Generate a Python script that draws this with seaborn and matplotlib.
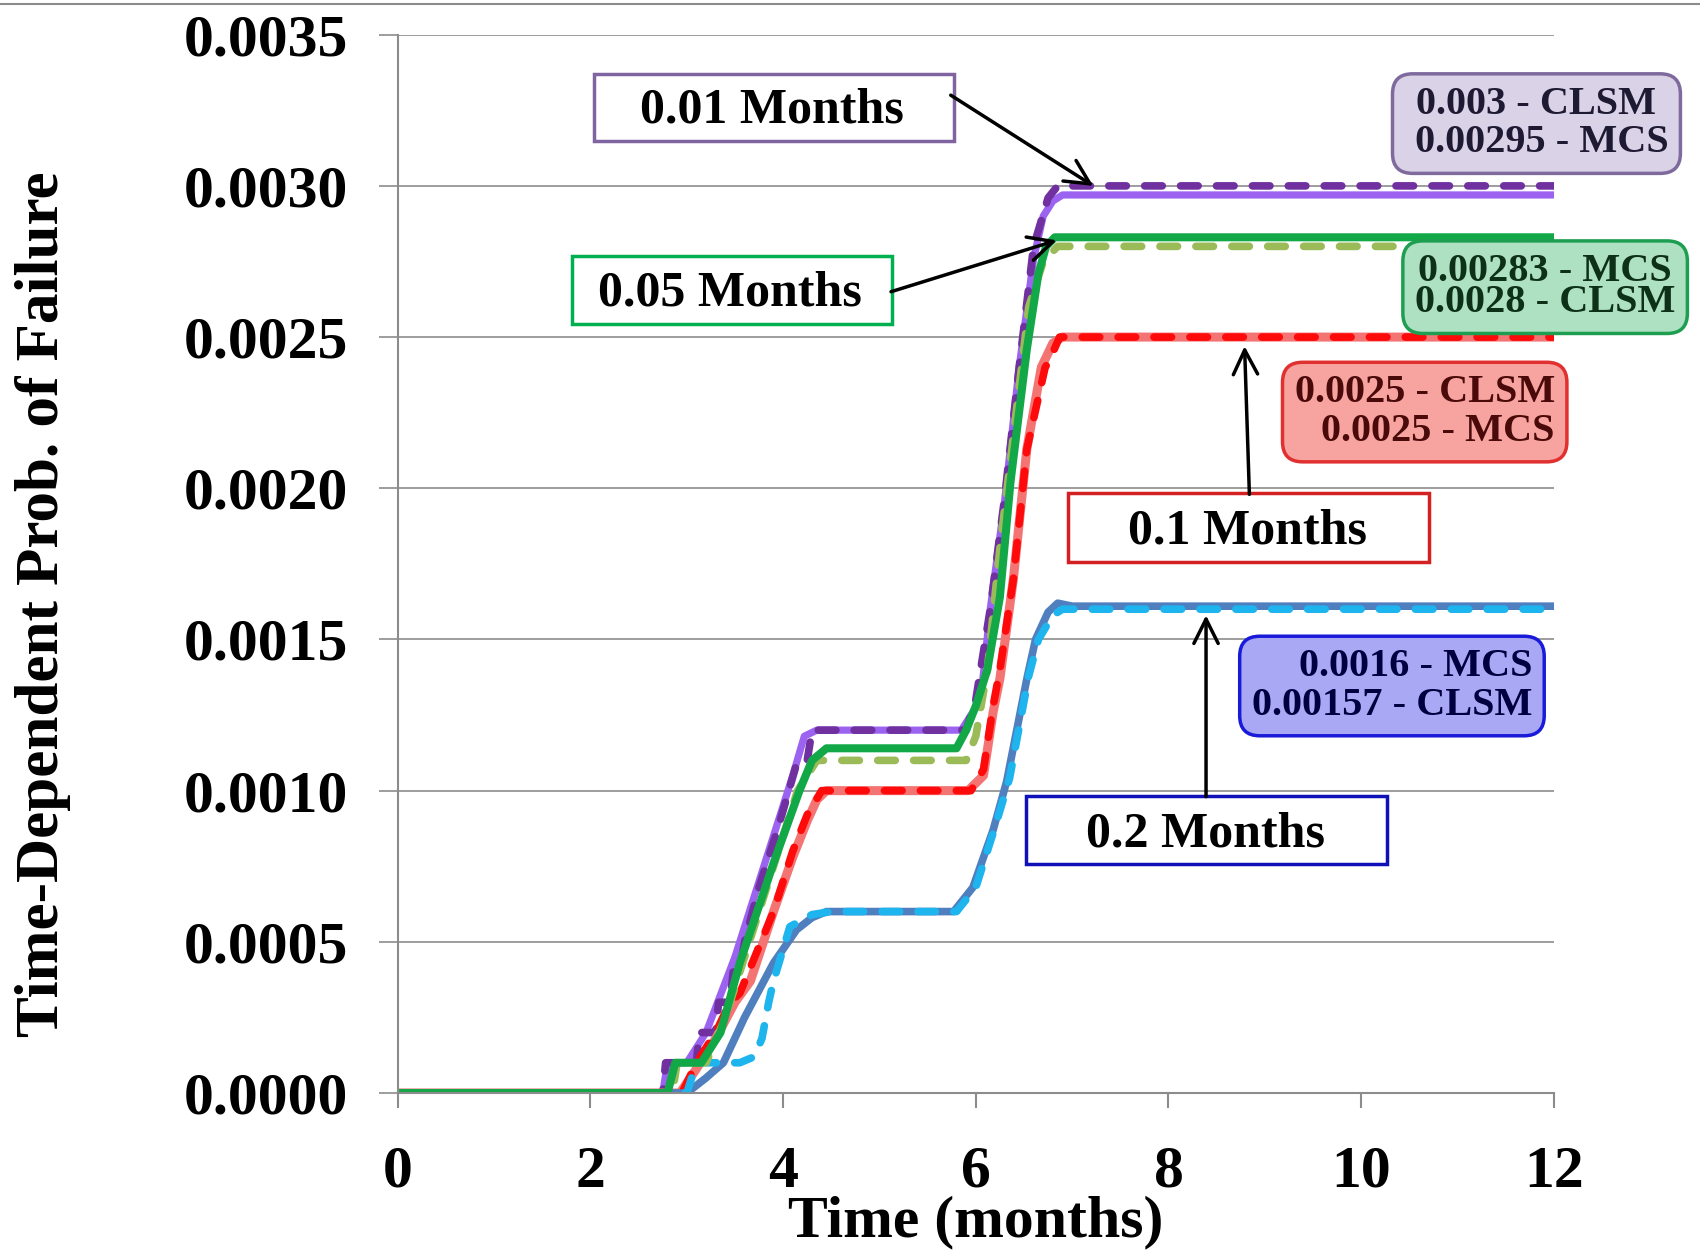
import matplotlib
matplotlib.use("Agg")
import matplotlib.pyplot as plt
import matplotlib.patches as mpatches
from matplotlib.lines import Line2D
import seaborn as sns

# time (months) / probability of failure
t_01_mcs = [0, 2.75, 2.8, 3.0, 3.2, 3.5, 3.8, 4.1, 4.22, 4.35, 5.85, 5.95, 6.05, 6.15, 6.3, 6.45, 6.6, 6.7, 6.8, 6.9, 12]
p_01_mcs = [0, 0, 0.0001, 0.0001, 0.0002, 0.00045, 0.00075, 0.00105, 0.00118, 0.0012, 0.0012, 0.00125, 0.0013, 0.0016, 0.00196, 0.0024, 0.00276, 0.0029, 0.00295, 0.00297, 0.00297]
t_01_clsm = [0, 2.75, 2.78, 3.1, 3.13, 3.3, 3.33, 3.45, 3.48, 3.55, 3.6, 3.75, 3.95, 4.15, 4.25, 4.3, 5.9, 6.0, 6.15, 6.3, 6.45, 6.6, 6.75, 6.85, 12]
p_01_clsm = [0, 0, 0.0001, 0.0001, 0.0002, 0.0002, 0.0003, 0.0003, 0.0004, 0.0004, 0.0005, 0.00068, 0.00088, 0.0011, 0.0011, 0.0012, 0.0012, 0.0013, 0.0016, 0.00197, 0.0024, 0.0028, 0.00296, 0.003, 0.003]

t_05_mcs = [0, 2.8, 2.88, 3.15, 3.35, 3.55, 3.9, 4.17, 4.3, 4.45, 5.8, 5.9, 6.0, 6.12, 6.25, 6.36, 6.53, 6.65, 6.73, 6.82, 12]
p_05_mcs = [0, 0, 0.0001, 0.0001, 0.0002, 0.00043, 0.00076, 0.001, 0.0011, 0.00114, 0.00114, 0.0012, 0.00128, 0.0014, 0.00164, 0.00202, 0.00246, 0.00271, 0.0028, 0.00283, 0.00283]
t_05_clsm = [0, 2.85, 2.9, 3.2, 3.4, 3.6, 3.9, 4.15, 4.35, 5.9, 6.0, 6.12, 6.25, 6.4, 6.55, 6.7, 6.85, 12]
p_05_clsm = [0, 0, 0.0001, 0.0001, 0.00025, 0.00045, 0.00075, 0.001, 0.0011, 0.0011, 0.00118, 0.0014, 0.0018, 0.0022, 0.0026, 0.00275, 0.0028, 0.0028]

t_1_mcs = [0, 2.93, 3.1, 3.3, 3.5, 3.66, 3.9, 4.1, 4.25, 4.35, 4.45, 5.92, 6.08, 6.18, 6.25, 6.39, 6.53, 6.68, 6.8, 6.9, 12]
p_1_mcs = [0, 0, 0.00008, 0.00018, 0.0003, 0.00037, 0.0006, 0.00078, 0.0009, 0.00097, 0.001, 0.001, 0.00105, 0.00126, 0.00137, 0.0017, 0.00213, 0.0024, 0.00248, 0.0025, 0.0025]
t_1_clsm = [0, 2.95, 3.1, 3.3, 3.45, 3.55, 3.9, 4.1, 4.25, 4.4, 5.95, 6.08, 6.18, 6.25, 6.39, 6.53, 6.72, 6.76, 6.87, 12]
p_1_clsm = [0, 0, 0.0001, 0.0002, 0.0003, 0.00033, 0.0006, 0.0008, 0.00092, 0.001, 0.001, 0.00107, 0.00128, 0.0014, 0.0017, 0.00213, 0.0024, 0.00242, 0.0025, 0.0025]

t_2_mcs = [0, 3.0, 3.2, 3.38, 3.6, 3.9, 4.14, 4.3, 4.45, 5.77, 5.97, 6.18, 6.32, 6.53, 6.62, 6.75, 6.85, 7.0, 12]
p_2_mcs = [0, 0, 0.00005, 0.0001, 0.00025, 0.00043, 0.00054, 0.00058, 0.0006, 0.0006, 0.00068, 0.00087, 0.00103, 0.00137, 0.0015, 0.00159, 0.00162, 0.00161, 0.00161]
t_2_clsm = [0, 3.0, 3.1, 3.4, 3.55, 3.7, 3.78, 3.85, 3.9, 4.07, 4.3, 4.5, 5.8, 6.0, 6.2, 6.35, 6.55, 6.65, 6.8, 6.9, 12]
p_2_clsm = [0, 0, 0.0001, 0.0001, 0.0001, 0.00012, 0.00018, 0.0003, 0.00037, 0.00055, 0.00059, 0.0006, 0.0006, 0.00068, 0.00088, 0.00104, 0.00138, 0.0015, 0.00158, 0.0016, 0.0016]

x_ticks = [0, 2, 4, 6, 8, 10, 12]
y_ticks = [0, 0.0005, 0.0010, 0.0015, 0.0020, 0.0025, 0.0030, 0.0035]
y_labels = ["0.0000", "0.0005", "0.0010", "0.0015", "0.0020", "0.0025", "0.0030", "0.0035"]

sns.set_style("white")
plt.rcParams['font.family'] = ['Liberation Serif', 'DejaVu Serif']
plt.rcParams['font.weight'] = 'bold'
for k in ['text.color', 'axes.labelcolor', 'xtick.labelcolor', 'ytick.labelcolor']:
    plt.rcParams[k] = 'black'

fig = plt.figure(figsize=(17, 12.53), dpi=100)
ax = fig.add_axes([0.234, 0.1277, 0.680, 0.8446])

dash = (0, (2.3, 2.4))
series = [
    (t_01_mcs, p_01_mcs, "#9B63F0", "-", 5.2),
    (t_01_clsm, p_01_clsm, "#7030A0", dash, 5.5),
    (t_1_mcs, p_1_mcs, "#F47474", "-", 6.5),
    (t_1_clsm, p_1_clsm, "#FF0a0a", dash, 5.5),
    (t_2_mcs, p_2_mcs, "#4F7FBF", "-", 5.5),
    (t_2_clsm, p_2_clsm, "#1EB4EE", dash, 5.5),
    (t_05_clsm, p_05_clsm, "#9BBB59", dash, 5.5),
    (t_05_mcs, p_05_mcs, "#12A848", "-", 5.8),
]
for t, p, c, ls, lw in series:
    sns.lineplot(x=t, y=p, ax=ax, color=c, linestyle=ls, linewidth=lw,
                 estimator=None, sort=False, dash_capstyle="round",
                 solid_joinstyle="round")

ax.set_xlim(0, 12)
ax.set_ylim(0, 0.0035)
ax.set_xticks(x_ticks)
ax.set_xticklabels([str(v) for v in x_ticks])
ax.set_yticks(y_ticks)
ax.set_yticklabels(y_labels)
ax.yaxis.grid(True, color="#8c8c8c", lw=1.2)
ax.xaxis.grid(False)
for s in ["top", "right"]:
    ax.spines[s].set_visible(False)
for s in ["left", "bottom"]:
    ax.spines[s].set_color("#8c8c8c")
    ax.spines[s].set_linewidth(1.5)
ax.tick_params(axis="x", length=11, width=1.5, color="#8c8c8c", direction="out",
               labelsize=43, pad=27, bottom=True)
ax.tick_params(axis="y", length=14, width=1.2, color="#8c8c8c", direction="out",
               labelsize=43, pad=22, left=True)
ax.set_xlabel("Time (months)", fontsize=43, fontweight="bold")
ax.set_ylabel("Time-Dependent Prob. of Failure", fontsize=44, fontweight="bold")
ax.xaxis.set_label_coords(0.5, -0.097)
ax.yaxis.set_label_coords(-0.283, 0.462)

# boxes with the time step
boxes = [
    ("0.01 Months", 2.035, 0.003148, 3.739, 0.000222, "#8064A2", 3.88, 0.00325),
    ("0.05 Months", 1.807, 0.002543, 3.323, 0.000225, "#00B050", 3.45, 0.002645),
    ("0.1 Months", 6.958, 0.001756, 3.748, 0.000228, "#D42020", 8.82, 0.001858),
    ("0.2 Months", 6.521, 0.000757, 3.749, 0.000225, "#1010B8", 8.38, 0.000855),
]
for txt, x0, y0, w, h, ec, tx, ty in boxes:
    ax.add_patch(mpatches.Rectangle((x0, y0), w, h, facecolor="white", edgecolor=ec,
                                    lw=2.5, clip_on=False, zorder=5))
    ax.text(tx, ty, txt, fontsize=36, fontweight="bold", ha="center", va="center", zorder=6)

arrows = [
    ((5.74, 0.0033), (7.22, 0.003)),
    ((5.12, 0.00265), (6.84, 0.00282)),
    ((8.84, 0.00198), (8.79, 0.00247)),
    ((8.39, 0.00098), (8.39, 0.00158)),
]
for start, end in arrows:
    ax.annotate("", xy=end, xytext=start, zorder=7,
                arrowprops=dict(arrowstyle="->,head_length=0.7,head_width=0.35",
                                color="black", lw=2.5, mutation_scale=25,
                                shrinkA=0, shrinkB=0))

# result boxes
results = [
    ("0.003 - CLSM\n 0.00295 - MCS", 11.82, 0.003206, "#DAD2E6", "#7F6A9E", "#1F1A33", "center", 1.05),
    ("0.00283 - MCS\n0.0028 - CLSM", 11.91, 0.002665, "#AEE0C2", "#1E9E50", "#0D3018", "center", 0.8),
    ("0.0025 - CLSM\n0.0025 - MCS", 10.66, 0.002252, "#F7A3A0", "#E03030", "#4A0A0A", "right", 1.05),
    ("0.0016 - MCS\n0.00157 - CLSM", 10.32, 0.001346, "#A8A8F5", "#1A1AD9", "#000040", "right", 1.05),
]
for txt, x, y, fc, ec, tc, al, lsp in results:
    ax.text(x, y, txt, fontsize=29, fontweight="bold", color=tc, ha="center", va="center",
            multialignment=al, linespacing=lsp, zorder=6, clip_on=False,
            bbox=dict(boxstyle="round,pad=0.3,rounding_size=0.5", facecolor=fc,
                      edgecolor=ec, lw=2.5))

fig.add_artist(Line2D([0, 1], [0.997, 0.997], color="#8c8c8c", lw=1.5))

plt.savefig("out.png", dpi=100)
